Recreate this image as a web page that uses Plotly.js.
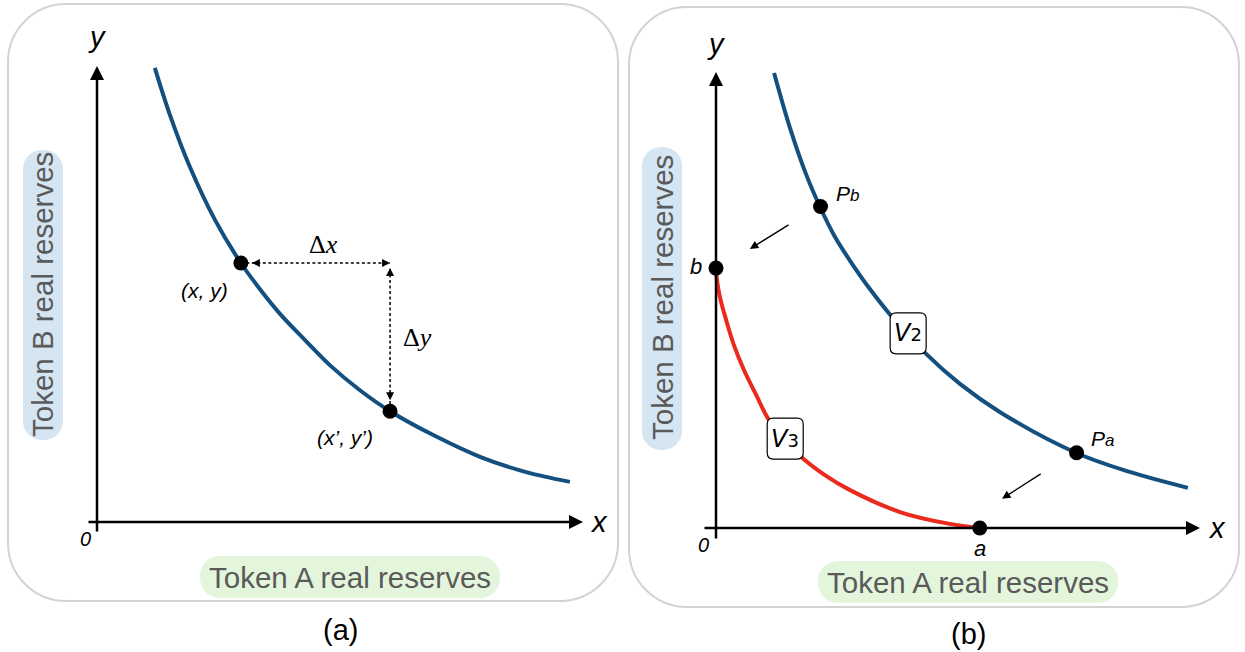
<!DOCTYPE html>
<html><head><meta charset="utf-8">
<script src="https://cdn.plot.ly/plotly-3.0.1.min.js"></script>
<style>html,body{margin:0;padding:0;background:#fff;overflow:hidden}#chart{width:1245px;height:652px}</style>
</head><body><div id="chart"></div>
<script>
// ---------------- data ----------------
// panel (a): constant-product curve and the two points
const leftCurveX = [1.19, 1.50, 1.91, 2.43, 2.96, 3.35, 3.77, 4.28, 4.79, 5.41, 6.03, 6.95, 7.88, 8.81, 9.73];
const leftCurveY = [9.96, 8.93, 7.79, 6.62, 5.68, 5.11, 4.56, 3.99, 3.44, 2.89, 2.43, 1.89, 1.43, 1.10, 0.88];
const leftPointX = [2.96, 6.03];
const leftPointY = [5.68, 2.43];
const leftPointLabels = ['<i>(x, y)</i>', '<i>(x’, y’)</i>'];
const deltaLabels = ['Δ<i>x</i>', 'Δ<i>y</i>'];

// panel (b): virtual curve V2, real curve V3 and points
const v2X = [1.20, 1.53, 1.86, 2.15, 2.46, 2.77, 3.18, 3.62, 4.32, 5.04, 5.87, 7.46, 8.55, 9.75];
const v2Y = [9.98, 8.77, 7.76, 7.04, 6.38, 5.86, 5.24, 4.65, 3.84, 3.16, 2.54, 1.64, 1.23, 0.88];
const v3X = [0, 0.02, 0.08, 0.21, 0.37, 0.58, 0.83, 1.07, 1.43, 1.74, 2.25, 2.77, 3.80, 4.83, 5.45];
const v3Y = [5.70, 5.44, 5.07, 4.56, 4.01, 3.46, 2.92, 2.41, 1.93, 1.58, 1.16, 0.83, 0.35, 0.09, 0];
const rightPointX = [2.16, 7.45, 0, 5.45];
const rightPointY = [7.05, 1.65, 5.70, 0];
const rightPointLabels = [
  '<i>P<span style="font-size:17px">b</span></i>',
  '<i>P<span style="font-size:17px">a</span></i>',
  '<i>b</i>', '<i>a</i>'];
const curveLabelText = [
  '<i>V</i><span style="font-size:18px">2</span>',
  '<i>V</i><span style="font-size:18px">3</span>'];
const curveLabelX = [3.97, 1.43];
const curveLabelY = [4.27, 1.96];
// shift arrows (tail -> tip)
const shiftTailX = [1.53, 6.74];
const shiftTailY = [6.67, 1.21];
const shiftTipX = [0.70, 5.91];
const shiftTipY = [6.12, 0.64];

const axisLabelX = '<i>x</i>', axisLabelY = '<i>y</i>', originLabel = '<i>0</i>';
const xTitle = 'Token A real reserves', yTitle = 'Token B real reserves';
const panelTags = ['(a)', '(b)'];

// ---------------- geometry / styling ----------------
const W = 1245, H = 652;
const L = {ox: 97, oy: 522, ux: 48.6, uy: 45.6, dom: [0, 0.5]};
const R = {ox: 716, oy: 528, ux: 48.4, uy: 45.6, dom: [0.5, 1]};
const xr = g => [(g.dom[0] * W - g.ox) / g.ux, (g.dom[1] * W - g.ox) / g.ux];
const yr = g => [(g.oy - H) / g.uy, g.oy / g.uy];

const BLUE = '#14507f', RED = '#ea2a1c', GREY = '#5a5a5a';
const SANS = 'Liberation Sans, Arial, Helvetica, sans-serif';
const SERIF = 'Liberation Serif, Times New Roman, serif';

const K = 0.5523;
function rrectPaper(x0, y0, x1, y1, r) {
  const X = v => (v / W).toFixed(5), Y = v => (1 - v / H).toFixed(5);
  const k = r * (1 - K);
  return `M${X(x0 + r)},${Y(y0)} L${X(x1 - r)},${Y(y0)} ` +
    `C${X(x1 - k)},${Y(y0)} ${X(x1)},${Y(y0 + k)} ${X(x1)},${Y(y0 + r)} ` +
    `L${X(x1)},${Y(y1 - r)} C${X(x1)},${Y(y1 - k)} ${X(x1 - k)},${Y(y1)} ${X(x1 - r)},${Y(y1)} ` +
    `L${X(x0 + r)},${Y(y1)} C${X(x0 + k)},${Y(y1)} ${X(x0)},${Y(y1 - k)} ${X(x0)},${Y(y1 - r)} ` +
    `L${X(x0)},${Y(y0 + r)} C${X(x0)},${Y(y0 + k)} ${X(x0 + k)},${Y(y0)} ${X(x0 + r)},${Y(y0)} Z`;
}
// rounded box centred on a data point, size in pixels
function rrectData(cx, cy, wpx, hpx, rpx, g) {
  const hw = wpx / 2 / g.ux, hh = hpx / 2 / g.uy, rx = rpx / g.ux, ry = rpx / g.uy;
  const x0 = cx - hw, x1 = cx + hw, y0 = cy + hh, y1 = cy - hh;
  const f = v => v.toFixed(4);
  return `M${f(x0 + rx)},${f(y0)} L${f(x1 - rx)},${f(y0)} Q${f(x1)},${f(y0)} ${f(x1)},${f(y0 - ry)} ` +
    `L${f(x1)},${f(y1 + ry)} Q${f(x1)},${f(y1)} ${f(x1 - rx)},${f(y1)} ` +
    `L${f(x0 + rx)},${f(y1)} Q${f(x0)},${f(y1)} ${f(x0)},${f(y1 + ry)} ` +
    `L${f(x0)},${f(y0 - ry)} Q${f(x0)},${f(y0)} ${f(x0 + rx)},${f(y0)} Z`;
}
const px = v => v / W, py = v => 1 - v / H;

// ---------------- traces ----------------
const traces = [
  {x: leftCurveX, y: leftCurveY, xaxis: 'x', yaxis: 'y', mode: 'lines',
   line: {color: BLUE, width: 4, shape: 'spline', smoothing: 1}, hoverinfo: 'skip'},
  {x: leftPointX, y: leftPointY, xaxis: 'x', yaxis: 'y', mode: 'markers',
   marker: {color: '#000', size: 15}, hoverinfo: 'skip'},
  {x: v2X, y: v2Y, xaxis: 'x2', yaxis: 'y2', mode: 'lines',
   line: {color: BLUE, width: 4, shape: 'spline', smoothing: 1}, hoverinfo: 'skip'},
  {x: v3X, y: v3Y, xaxis: 'x2', yaxis: 'y2', mode: 'lines',
   line: {color: RED, width: 4, shape: 'spline', smoothing: 1}, hoverinfo: 'skip'},
  {x: rightPointX, y: rightPointY, xaxis: 'x2', yaxis: 'y2', mode: 'markers',
   marker: {color: '#000', size: 15}, hoverinfo: 'skip'}
];

// ---------------- shapes ----------------
const shapes = [
  {type: 'path', xref: 'paper', yref: 'paper', path: rrectPaper(8, 4, 618, 601, 58),
   line: {color: '#d3d3d3', width: 2}, layer: 'below'},
  {type: 'path', xref: 'paper', yref: 'paper', path: rrectPaper(629, 7, 1239, 607, 58),
   line: {color: '#d3d3d3', width: 2}, layer: 'below'},
  // label pills
  {type: 'path', xref: 'paper', yref: 'paper', path: rrectPaper(23, 150, 63, 440, 19),
   fillcolor: '#d5e5f2', line: {width: 0}, layer: 'below'},
  {type: 'path', xref: 'paper', yref: 'paper', path: rrectPaper(642, 147, 682, 450, 19),
   fillcolor: '#d5e5f2', line: {width: 0}, layer: 'below'},
  {type: 'path', xref: 'paper', yref: 'paper', path: rrectPaper(200, 556, 500, 598, 20),
   fillcolor: '#e3f6dc', line: {width: 0}, layer: 'below'},
  {type: 'path', xref: 'paper', yref: 'paper', path: rrectPaper(818, 561, 1118, 603, 20),
   fillcolor: '#e3f6dc', line: {width: 0}, layer: 'below'},
  // dashed delta lines
  {type: 'line', xref: 'x', yref: 'y', x0: leftPointX[0], y0: leftPointY[0], x1: leftPointX[1], y1: leftPointY[0],
   line: {color: '#000', width: 1.5, dash: '3px,2.5px'}, layer: 'below'},
  {type: 'line', xref: 'x', yref: 'y', x0: leftPointX[1], y0: leftPointY[0] - 6 / L.uy, x1: leftPointX[1], y1: leftPointY[1],
   line: {color: '#000', width: 1.5, dash: '3px,2.5px'}, layer: 'below'}
];
curveLabelX.forEach((cx, i) => {
  shapes.push({type: 'path', xref: 'x2', yref: 'y2', path: rrectData(cx, curveLabelY[i], 36, 41, 6, R),
    fillcolor: '#fff', line: {color: '#000', width: 1.2}, layer: 'above'});
});

// ---------------- annotations ----------------
const ann = [];
function axisArrow(xref, yref, x, y, ax, ay) {
  ann.push({xref, yref, axref: xref, ayref: yref, x, y, ax, ay, text: '', showarrow: true,
    arrowhead: 2, arrowsize: 1.12, arrowwidth: 2.5, arrowcolor: '#000'});
}
axisArrow('x', 'y', 10, 0, -10 / L.ux, 0);
axisArrow('x', 'y', 0, 10, 0, -11 / L.uy);
axisArrow('x2', 'y2', 10, 0, -13 / R.ux, 0);
axisArrow('x2', 'y2', 0, 10, 0, -12 / R.uy);

function head(x, y, ax, ay, standoff) {
  ann.push({xref: 'x', yref: 'y', x, y, ax, ay, standoff, text: '', showarrow: true,
    arrowhead: 2, arrowsize: 1.07, arrowwidth: 1.5, arrowcolor: '#000'});
}
head(leftPointX[0], leftPointY[0], 20, 0, 11);
head(leftPointX[1], leftPointY[0], -9, 0, 0);
head(leftPointX[1], leftPointY[0], 0, 14, 5);
head(leftPointX[1], leftPointY[1], 0, -20, 11);

shiftTipX.forEach((tx, i) => {
  ann.push({xref: 'x2', yref: 'y2', axref: 'x2', ayref: 'y2', x: tx, y: shiftTipY[i],
    ax: shiftTailX[i], ay: shiftTailY[i], text: '', showarrow: true,
    arrowhead: 2, arrowsize: 1.2, arrowwidth: 1.4, arrowcolor: '#000'});
});

function txt(xref, yref, x, y, text, size, opts) {
  ann.push(Object.assign({xref, yref, x, y, text, showarrow: false,
    font: {family: SANS, size, color: '#000'}, xanchor: 'center', yanchor: 'middle'}, opts || {}));
}
// axis letters
txt('x', 'y', 0, 10, axisLabelY, 29, {yshift: 29});
txt('x', 'y', 10, 0, axisLabelX, 29, {xshift: 16, yshift: 0});
txt('x', 'y', 0, 0, originLabel, 20, {xshift: -12, yshift: -17});
txt('x2', 'y2', 0, 10, axisLabelY, 29, {yshift: 28});
txt('x2', 'y2', 10, 0, axisLabelX, 29, {xshift: 17, yshift: 0});
txt('x2', 'y2', 0, 0, originLabel, 20, {xshift: -13, yshift: -17});

// point labels
txt('x', 'y', leftPointX[0], leftPointY[0], leftPointLabels[0], 21, {xshift: -36, yshift: -28});
txt('x', 'y', leftPointX[1], leftPointY[1], leftPointLabels[1], 21, {xshift: -45, yshift: -26});
txt('x', 'y', (leftPointX[0] + leftPointX[1]) / 2, leftPointY[0], deltaLabels[0], 26,
  {xshift: 8, yshift: 18, font: {family: SERIF, size: 26, color: '#000'}});
txt('x', 'y', leftPointX[1], (leftPointY[0] + leftPointY[1]) / 2, deltaLabels[1], 26,
  {xshift: 27, yshift: 0, font: {family: SERIF, size: 26, color: '#000'}});

const rpShift = [[27, 13], [26, 14], [-20, 2], [0, -20]];
rightPointLabels.forEach((t, i) => {
  txt('x2', 'y2', rightPointX[i], rightPointY[i], t, i < 2 ? 21 : 22, {xshift: rpShift[i][0], yshift: rpShift[i][1]});
});
curveLabelText.forEach((t, i) => {
  txt('x2', 'y2', curveLabelX[i], curveLabelY[i], t, 25, {yshift: 0,
    font: {family: 'DejaVu Sans, ' + SANS, size: 24, color: '#000'}});
});

// titles
const titleFont = {family: SANS, size: 29.5, color: GREY};
txt('paper', 'paper', px(43), py(295), yTitle, 29.5, {textangle: -90, font: titleFont});
txt('paper', 'paper', px(662), py(298), yTitle, 29.5, {textangle: -90, font: titleFont});
txt('paper', 'paper', px(350), py(577), xTitle, 29.5, {font: titleFont});
txt('paper', 'paper', px(968), py(582), xTitle, 29.5, {font: titleFont});
txt('paper', 'paper', px(340), py(630), panelTags[0], 29, {font: {family: SANS, size: 29, color: '#000'}});
txt('paper', 'paper', px(968), py(634), panelTags[1], 29, {font: {family: SANS, size: 29, color: '#000'}});

const layout = {
  width: W, height: H, margin: {l: 0, r: 0, t: 0, b: 0},
  paper_bgcolor: '#fff', plot_bgcolor: 'rgba(0,0,0,0)', showlegend: false,
  xaxis: {domain: L.dom, range: xr(L), visible: false, fixedrange: true},
  yaxis: {domain: [0, 1], range: yr(L), visible: false, fixedrange: true},
  xaxis2: {domain: R.dom, range: xr(R), visible: false, fixedrange: true, anchor: 'y2'},
  yaxis2: {domain: [0, 1], range: yr(R), visible: false, fixedrange: true, anchor: 'x2'},
  shapes, annotations: ann
};
Plotly.newPlot('chart', traces, layout, {displayModeBar: false, staticPlot: true});
</script>
</body></html>
